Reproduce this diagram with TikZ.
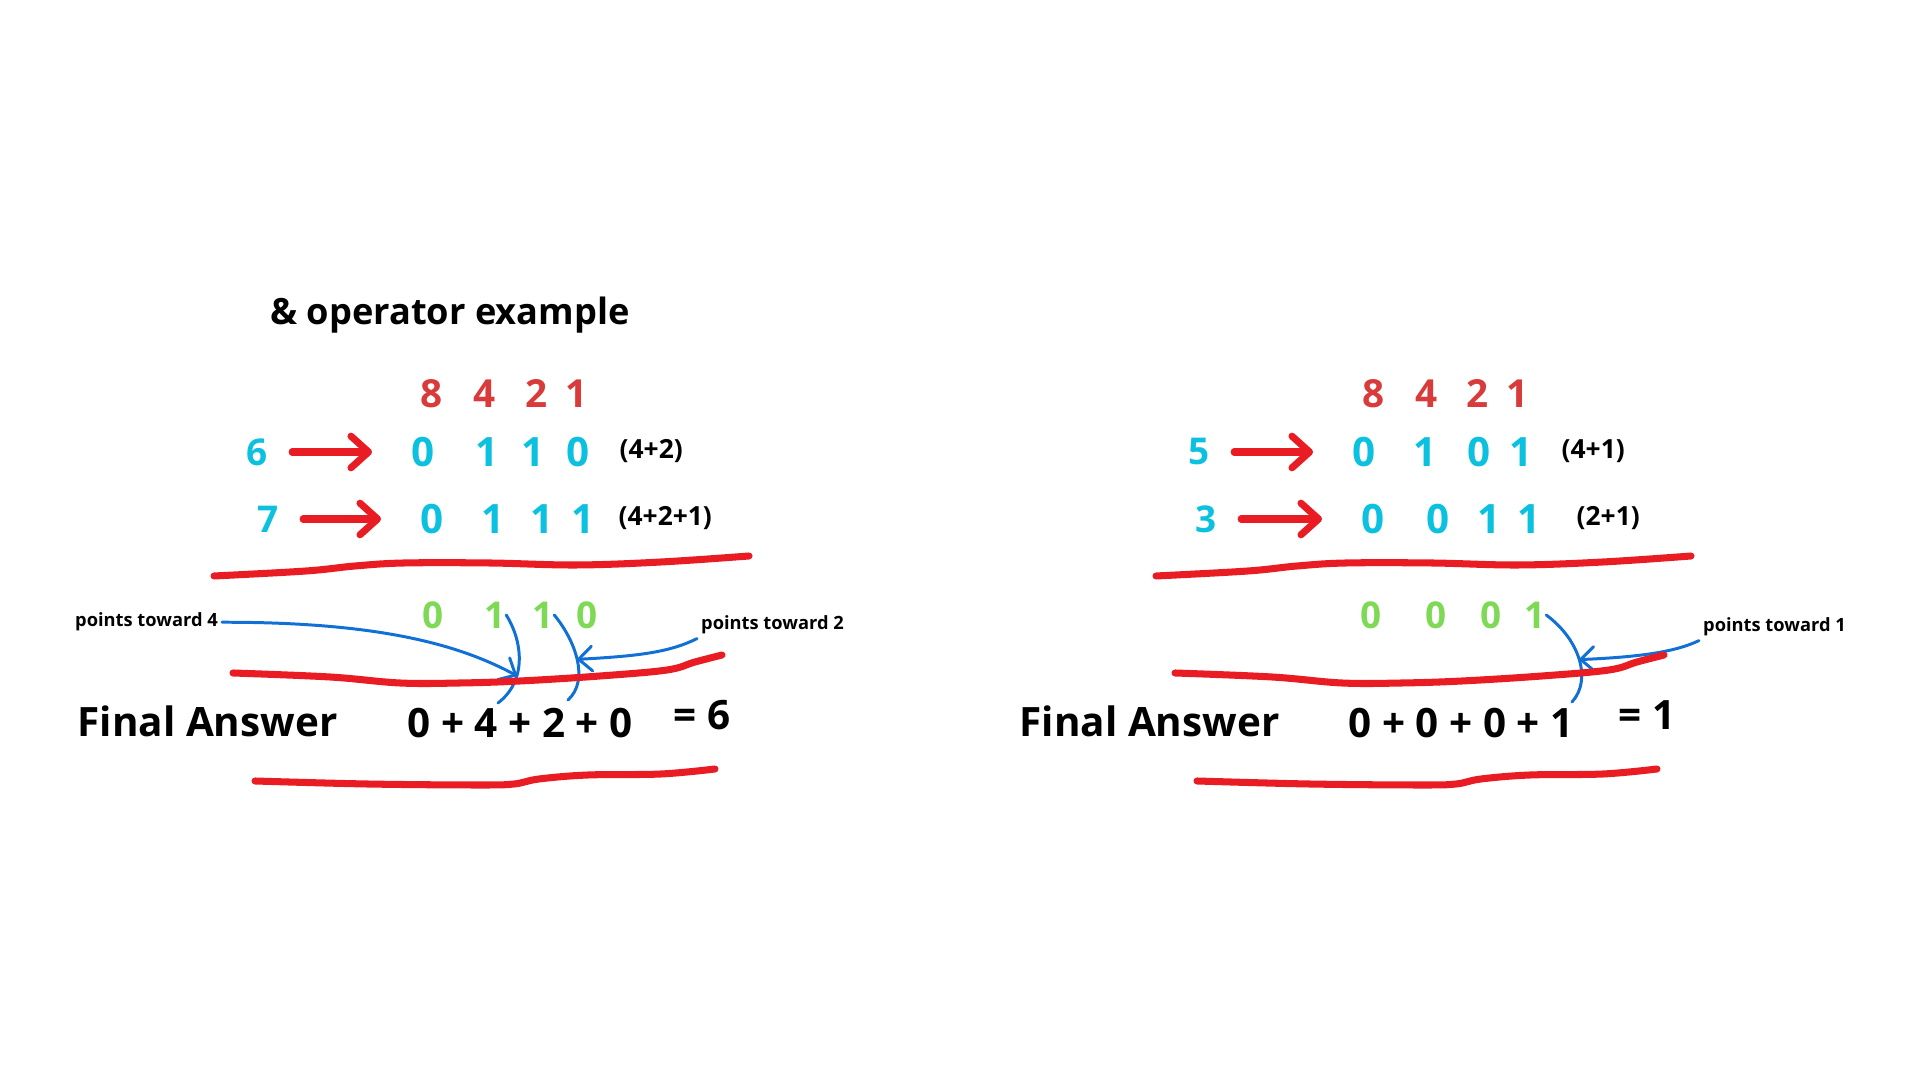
\documentclass[tikz,border=0pt]{standalone}
\usepackage{fontspec}
\setmainfont{Open Sans}
\usepackage{tikz}
\usetikzlibrary{arrows.meta,calc,positioning}
\definecolor{weightred}{RGB}{217,59,59}
\definecolor{bitcyan}{RGB}{12,192,223}
\definecolor{bitgreen}{RGB}{126,217,87}
\definecolor{inkred}{RGB}{233,27,35}
\definecolor{inkblue}{RGB}{16,112,214}

\begin{document}
\begin{tikzpicture}[x=0.01cm,y=-0.01cm,font=\bfseries,>=Latex]
    \tikzset{
      digit/.style={inner sep=0pt, font=\fontsize{11.5}{13}\selectfont\bfseries},
      weight/.style={digit, text=weightred, font=\fontsize{11}{13}\selectfont\bfseries},
      bit/.style={digit, text=bitcyan},
      andbit/.style={digit, text=bitgreen, font=\fontsize{10.5}{12}\selectfont\bfseries},
      num/.style={digit, text=bitcyan, font=\fontsize{10.5}{12}\selectfont\bfseries},
      sumnote/.style={inner sep=0pt, anchor=west, font=\fontsize{7.5}{9}\selectfont\bfseries},
      pointer/.style={inner sep=1pt, font=\fontsize{5.2}{6.5}\selectfont\bfseries},
      answer/.style={inner sep=0pt, anchor=base west, font=\fontsize{11.5}{14}\selectfont\bfseries},
      convert/.style={-{Straight Barb[length=5pt,width=9pt,round]}, inkred, line width=2pt, line cap=round, shorten <=6.8pt, shorten >=11pt},
      scribble/.style={inkred, line width=2pt, line cap=round, line join=round},
      bitline/.style={inkblue, line width=0.85pt, line cap=round},
      hint/.style={bitline, -{Straight Barb[length=3.8pt,width=7pt,round]}}
    }
    \useasboundingbox (0,0) rectangle (1920,1080);

    % left: 6 & 7
    \node[inner sep=0pt, anchor=base, font=\fontsize{10.3}{12}\selectfont\bfseries] (title) at (450,325) {\& operator example};
    \foreach \x/\w [count=\i] in {432/8,485/4,537/2,577/1}
      \node[weight] (wl\i) at (\x,394) {\w};

    \node[num] (n6) at (257,452) {6};
    \node[num] (n7) at (268,519) {7};
    \foreach \x/\b [count=\i] in {423/0,487/1,533/1,578/0}
      \node[bit] (a\i) at (\x,452) {\b};
    \foreach \x/\b [count=\i] in {432/0,493/1,542/1,583/1}
      \node[bit] (b\i) at (\x,519) {\b};
    \node[sumnote] (pa) at (619,451) {(4+2)};
    \node[sumnote] (pb) at (618,518) {(4+2+1)};
    \draw[convert] (n6.east) -- (a1.west);
    \draw[convert] (n7.east) -- (b1.west);

    \foreach \x/\b [count=\i] in {433/0,495/1,543/1,587/0}
      \node[andbit] (g\i) at (\x,615) {\b};
    \node[answer] (fa) at (77,737) {Final Answer};
    \node[answer] (suma) at (407,738) {0 + 4 + 2 + 0};
    \node[answer] (resa) at (673,730) {= 6};

    \node[pointer, anchor=base east] (to4) at (222,627) {points toward 4};
    \node[pointer, anchor=base west] (to2) at (697,630) {points toward 2};
    \coordinate (t4) at (498,703);
    \coordinate (t2) at (568,700);
    \draw[bitline] (g2.east) .. controls (522,640) and (528,680) .. (t4) coordinate[pos=0.67] (hit4);
    \draw[bitline] (g3.east) .. controls (575,640) and (590,680) .. (t2) coordinate[pos=0.5] (hit2);
    \draw[hint] (to4.east) .. controls (380,622) and (460,645) .. (hit4);
    \draw[hint] (to2.south west) .. controls (670,652) and (640,656) .. (hit2);

    % right: 5 & 3
    \foreach \x/\w [count=\i] in {1374/8,1427/4,1478/2,1518/1}
      \node[weight] (wr\i) at (\x,394) {\w};

    \node[num] (n5) at (1199,452) {5};
    \node[num] (n3) at (1206,519) {3};
    \foreach \x/\b [count=\i] in {1364/0,1425/1,1479/0,1521/1}
      \node[bit] (c\i) at (\x,452) {\b};
    \foreach \x/\b [count=\i] in {1373/0,1438/0,1489/1,1529/1}
      \node[bit] (d\i) at (\x,519) {\b};
    \node[sumnote] (pc) at (1561,451) {(4+1)};
    \node[sumnote] (pd) at (1576,518) {(2+1)};
    \draw[convert] (n5.east) -- (c1.west);
    \draw[convert] (n3.east) -- (d1.west);

    \foreach \x/\b [count=\i] in {1371/0,1436/0,1491/0,1535/1}
      \node[andbit] (h\i) at (\x,615) {\b};
    \node[answer] (fb) at (1019,737) {Final Answer};
    \node[answer] (sumb) at (1348,738) {0 + 0 + 0 + 1};
    \node[answer] (resb) at (1618,730) {= 1};

    \node[pointer, anchor=base west] (to1) at (1699,632) {points toward 1};
    \coordinate (t1) at (1572,702);
    \draw[bitline] (h4.east) .. controls (1580,640) and (1592,680) .. (t1) coordinate[pos=0.5] (hit1);
    \draw[hint] (to1.south west) .. controls (1675,652) and (1640,657) .. (hit1);

    % red underlines, same on both sides
    \foreach \dx in {0,942} {
      \begin{scope}[shift={(\dx,0)}]
        \draw[scribble] plot[smooth, tension=0.6] coordinates
          {(214,576) (306,571) (355,566) (404,563) (490,563) (576,565) (661,562) (749,556)};
        \draw[scribble] plot[smooth, tension=0.6] coordinates
          {(233,673) (330,677) (400,683) (460,683) (520,681) (600,676) (667,670) (695,662) (722,655)};
        \draw[scribble] plot[smooth, tension=0.6] coordinates
          {(255,781) (367,784) (478,785) (514,784) (539,779) (588,775) (661,774) (715,769)};
      \end{scope}
    }
  \end{tikzpicture}
\end{document}
